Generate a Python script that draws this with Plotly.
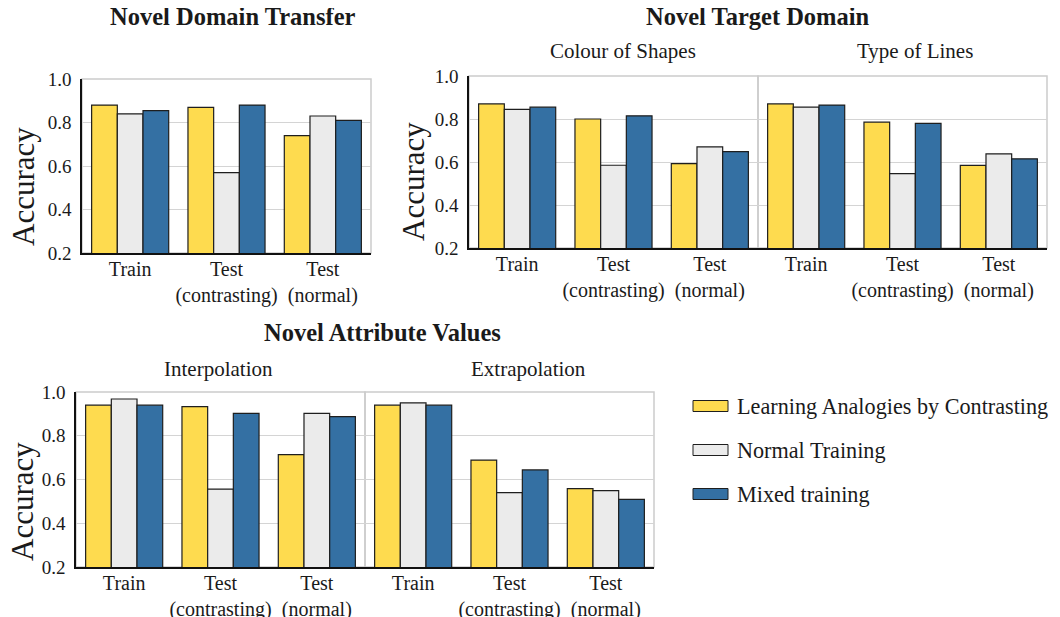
import plotly.graph_objects as go

# ---------------- data ----------------
categories = ["Train", "Test<br>(contrasting)", "Test<br>(normal)"]
series_names = ["Learning Analogies by Contrasting", "Normal Training", "Mixed training"]
series_colors = ["#FEDB4F", "#EBEBEB", "#3470A3"]

# Novel Domain Transfer
ndt_lac = [0.88, 0.87, 0.74]
ndt_normal = [0.84, 0.57, 0.83]
ndt_mixed = [0.855, 0.88, 0.81]
# Novel Target Domain - Colour of Shapes
col_lac = [0.87, 0.80, 0.592]
col_normal = [0.845, 0.585, 0.67]
col_mixed = [0.855, 0.815, 0.648]
# Novel Target Domain - Type of Lines
lines_lac = [0.87, 0.785, 0.584]
lines_normal = [0.855, 0.546, 0.638]
lines_mixed = [0.865, 0.78, 0.615]
# Novel Attribute Values - Interpolation
interp_lac = [0.94, 0.933, 0.714]
interp_normal = [0.968, 0.556, 0.902]
interp_mixed = [0.94, 0.902, 0.887]
# Novel Attribute Values - Extrapolation
extrap_lac = [0.94, 0.689, 0.558]
extrap_normal = [0.95, 0.540, 0.549]
extrap_mixed = [0.94, 0.644, 0.509]

y_ticks = [0.2, 0.4, 0.6, 0.8, 1.0]

# ---------------- layout helpers ----------------
# The page places the figure 8px from the top-left corner (body margin),
# so the figure is sized to fill the rest of the 1060x617 window.
OFF = 8
W, H = 1060 - OFF, 617 - OFF
FONT = "Liberation Serif, Times New Roman, serif"
TXT = "#1a1a1a"


def X(px):
    return (px - OFF) / W


def Y(py):
    return 1 - (py - OFF) / H


# (suffix, series, x-domain px, y-domain px (top,bottom), show y tick labels)
panels = [
    ("", [ndt_lac, ndt_normal, ndt_mixed], (82, 371), (79, 253), True),
    ("2", [col_lac, col_normal, col_mixed], (469, 758), (76, 248), True),
    ("3", [lines_lac, lines_normal, lines_mixed], (758, 1047), (76, 248), False),
    ("4", [interp_lac, interp_normal, interp_mixed], (76, 365), (392, 567), True),
    ("5", [extrap_lac, extrap_normal, extrap_mixed], (365, 654), (392, 567), False),
]

fig = go.Figure()
layout = dict(
    template="none",
    width=W, height=H, autosize=False,
    margin=dict(l=0, r=0, t=0, b=0, pad=0, autoexpand=False),
    paper_bgcolor="white", plot_bgcolor="white",
    barmode="group", bargap=0.2, bargroupgap=0,
    showlegend=False,
    font=dict(family=FONT, color=TXT),
)
shapes = []
annotations = []

for suffix, series, (x0, x1), (yt, yb), show_y in panels:
    xa = "xaxis" + suffix
    ya = "yaxis" + suffix
    for name, vals, color in zip(series_names, series, series_colors):
        fig.add_trace(go.Bar(
            x=categories, y=vals, name=name,
            marker=dict(color=color, line=dict(color="#1e1e1e", width=1.2)),
            xaxis="x" + suffix, yaxis="y" + suffix,
            hoverinfo="skip",
        ))
    layout[xa] = dict(
        domain=[X(x0), X(x1)], anchor="y" + suffix, type="category",
        automargin=False,
        showline=True, linecolor="#111111", linewidth=1.6,
        ticks="", ticklabelstandoff=-3, showgrid=False, zeroline=False,
        tickfont=dict(family=FONT, size=20, color=TXT),
        fixedrange=True,
    )
    layout[ya] = dict(
        domain=[Y(yb), Y(yt)], anchor="x" + suffix,
        automargin=False,
        range=[0.2, 1.0], tickvals=y_ticks, tickformat=".1f",
        showticklabels=show_y,
        showline=show_y, linecolor="#111111", linewidth=1.6,
        ticks="", ticklabelstandoff=5,
        showgrid=True, gridcolor="#d4d4d4", gridwidth=1.2,
        zeroline=False,
        tickfont=dict(family=FONT, size=19, color=TXT),
        fixedrange=True,
    )
    # light grey frame (top, right, divider)
    shapes.append(dict(
        type="rect", xref="x%s domain" % suffix, yref="y%s domain" % suffix,
        x0=0, x1=1, y0=0, y1=1, layer="below",
        line=dict(color="#cccccc", width=1.5), fillcolor="rgba(0,0,0,0)",
    ))

# titles
titles = [
    ("<b>Novel Domain Transfer</b>", 233, 17, 24.5),
    ("<b>Novel Target Domain</b>", 758, 17, 24.5),
    ("<b>Novel Attribute Values</b>", 382, 332, 24.5),
    ("Colour of Shapes", 623, 51, 21),
    ("Type of Lines", 915, 51, 21),
    ("Interpolation", 218, 369, 21),
    ("Extrapolation", 528, 369, 21),
]
for text, px, py, size in titles:
    annotations.append(dict(
        text=text, x=X(px), y=Y(py), xref="paper", yref="paper",
        xanchor="center", yanchor="middle", showarrow=False,
        font=dict(family=FONT, size=size, color=TXT),
    ))

# y-axis titles
for px, py in [(24, 187), (413, 182), (22, 502)]:
    annotations.append(dict(
        text="Accuracy", x=X(px), y=Y(py), xref="paper", yref="paper",
        xanchor="center", yanchor="middle", textangle=-90, showarrow=False,
        font=dict(family=FONT, size=31, color=TXT),
    ))

# legend (drawn manually to match the wide swatches)
for i, (name, color) in enumerate(zip(series_names, series_colors)):
    cy = 406 + 44 * i
    shapes.append(dict(
        type="rect", xref="paper", yref="paper",
        x0=X(693), x1=X(728), y0=Y(cy + 5.5), y1=Y(cy - 5.5),
        fillcolor=color, line=dict(color="#1e1e1e", width=1),
    ))
    annotations.append(dict(
        text=name, x=X(735), y=Y(cy), xref="paper", yref="paper",
        xanchor="left", yanchor="middle", showarrow=False,
        font=dict(family=FONT, size=22.2, color=TXT),
    ))

layout["shapes"] = shapes
layout["annotations"] = annotations
fig.update_layout(**layout)
fig.write_html("out.html")
